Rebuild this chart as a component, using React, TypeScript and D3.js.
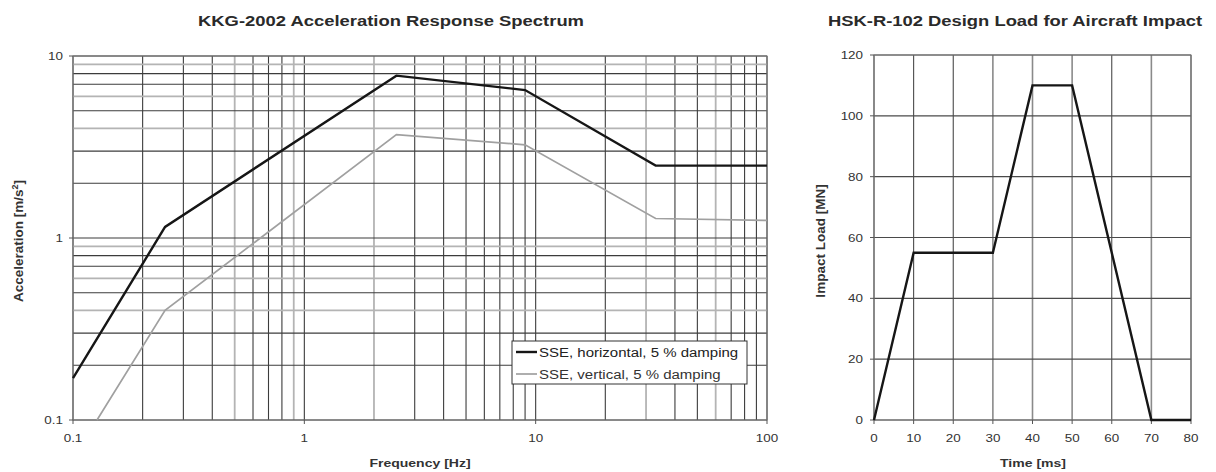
import React from "react";
import * as d3 from "d3";

// Left chart data: KKG-2002 acceleration response spectrum
const freqH = [0.1, 0.25, 2.5, 9.0, 33, 100];
const accH = [0.17, 1.15, 7.8, 6.5, 2.5, 2.5];
const freqV = [0.127, 0.25, 2.5, 9.0, 33, 100];
const accV = [0.1, 0.4, 3.7, 3.25, 1.28, 1.25];
const leftXTicks = [0.1, 1, 10, 100];
const leftYTicks = [0.1, 1, 10];
const legendLabels = ["SSE, horizontal, 5 % damping", "SSE, vertical, 5 % damping"];
// grid lines that appear faded (lighter grey) in the scanned original
const leftLightX = [0.5, 0.9, 2, 30, 60];
const leftLightY = [9, 6, 4, 0.9, 0.6, 0.4];

// Right chart data: HSK-R-102 aircraft impact load
const timeMs = [0, 10, 30, 40, 50, 70, 80];
const loadMN = [0, 55, 55, 110, 110, 0, 0];
const rightXTicks = [0, 10, 20, 30, 40, 50, 60, 70, 80];
const rightYTicks = [0, 20, 40, 60, 80, 100, 120];
const rightLightX = [30, 40, 50, 70];

const FONT = "'Liberation Sans', Arial, sans-serif";
const SX = 1.22;
const DARK_GRID = "#3c3c3c";
const LIGHT_GRID = "#b4b4b4";

function SText(props: {
  x: number;
  y: number;
  size: number;
  anchor?: string;
  bold?: boolean;
  fill?: string;
  sx?: number;
  children: React.ReactNode;
}) {
  const { x, y, size, anchor = "start", bold = false, fill = "#333", sx = SX, children } = props;
  return (
    <text
      transform={`translate(${x},${y}) scale(${sx},1)`}
      textAnchor={anchor}
      fontFamily={FONT}
      fontSize={size}
      fontWeight={bold ? "bold" : "normal"}
      fill={fill}
    >
      {children}
    </text>
  );
}

function logGridValues(min: number, max: number): number[] {
  const out: number[] = [];
  for (let dec = min; dec < max; dec *= 10) {
    for (let k = 1; k <= 9; k++) out.push(Math.round(dec * k * 1e6) / 1e6);
  }
  out.push(max);
  return out;
}

const isIn = (arr: number[], v: number) => arr.some((a) => Math.abs(a - v) < 1e-6);

function LeftChart() {
  const L = 73, R = 767, T = 56, B = 420;
  const x = d3.scaleLog().domain([0.1, 100]).range([L, R]);
  const y = d3.scaleLog().domain([0.1, 10]).range([B, T]);
  const xGrid = logGridValues(0.1, 100);
  const yGrid = logGridValues(0.1, 10);
  const line = d3
    .line<[number, number]>()
    .x((d) => x(d[0]))
    .y((d) => y(d[1]));
  const hData = freqH.map((f, i) => [f, accH[i]] as [number, number]);
  const vData = freqV.map((f, i) => [f, accV[i]] as [number, number]);
  return (
    <g>
      <text
        x={391}
        y={26}
        textAnchor="middle"
        fontFamily={FONT}
        fontSize={14.5}
        fontWeight="bold"
        fill="#2a2a2a"
        textLength={386}
        lengthAdjust="spacingAndGlyphs"
      >
        KKG-2002 Acceleration Response Spectrum
      </text>
      {xGrid.map((v, i) => {
        const light = isIn(leftLightX, v);
        return (
          <line
            key={"xg" + i}
            x1={x(v)}
            x2={x(v)}
            y1={T}
            y2={B}
            stroke={light ? LIGHT_GRID : DARK_GRID}
            strokeWidth={light ? 1.8 : 1.1}
          />
        );
      })}
      {yGrid.map((v, i) => {
        const light = isIn(leftLightY, v);
        return (
          <line
            key={"yg" + i}
            x1={L}
            x2={R}
            y1={y(v)}
            y2={y(v)}
            stroke={light ? LIGHT_GRID : DARK_GRID}
            strokeWidth={light ? 1.8 : 1.1}
          />
        );
      })}
      <rect x={L} y={T} width={R - L} height={B - T} fill="none" stroke="#777" strokeWidth={1} />
      {leftXTicks.map((v, i) => (
        <g key={"xt" + i}>
          <line x1={x(v)} x2={x(v)} y1={B} y2={B + 4} stroke="#555" />
          <SText x={x(v)} y={B + 22} size={11} anchor="middle">
            {v}
          </SText>
        </g>
      ))}
      {leftYTicks.map((v, i) => (
        <g key={"yt" + i}>
          <line x1={L - 4} x2={L} y1={y(v)} y2={y(v)} stroke="#555" />
          <SText x={L - 10} y={y(v) + 4} size={11} anchor="end">
            {v}
          </SText>
        </g>
      ))}
      <path d={line(vData) || ""} fill="none" stroke="#a0a0a0" strokeWidth={1.7} />
      <path d={line(hData) || ""} fill="none" stroke="#161616" strokeWidth={2.4} />
      <SText x={420} y={467} size={11.5} anchor="middle" bold>
        Frequency [Hz]
      </SText>
      <text
        transform={`translate(23,241) rotate(-90)`}
        textAnchor="middle"
        fontFamily={FONT}
        fontSize={13.5}
        fontWeight="bold"
        fill="#333"
      >
        Acceleration [m/s<tspan dy={-5} fontSize={9}>2</tspan>
        <tspan dy={5}>]</tspan>
      </text>
      <g>
        <rect x={512} y={341} width={235} height={43} fill="#fff" stroke="#333" strokeWidth={1} />
        <line x1={516} x2={537} y1={352} y2={352} stroke="#161616" strokeWidth={2.4} />
        <SText x={539} y={356.5} size={12} fill="#222" sx={1.25}>
          {legendLabels[0]}
        </SText>
        <line x1={516} x2={537} y1={374} y2={374} stroke="#a0a0a0" strokeWidth={1.7} />
        <SText x={539} y={378.5} size={12} fill="#333" sx={1.25}>
          {legendLabels[1]}
        </SText>
      </g>
    </g>
  );
}

function RightChart() {
  const L = 874, R = 1191, T = 55, B = 420;
  const x = d3.scaleLinear().domain([0, 80]).range([L, R]);
  const y = d3.scaleLinear().domain([0, 120]).range([B, T]);
  const line = d3
    .line<[number, number]>()
    .x((d) => x(d[0]))
    .y((d) => y(d[1]));
  const data = timeMs.map((t, i) => [t, loadMN[i]] as [number, number]);
  return (
    <g>
      <text
        x={1015}
        y={26}
        textAnchor="middle"
        fontFamily={FONT}
        fontSize={14.5}
        fontWeight="bold"
        fill="#2a2a2a"
        textLength={374}
        lengthAdjust="spacingAndGlyphs"
      >
        HSK-R-102 Design Load for Aircraft Impact
      </text>
      {rightXTicks.map((v, i) => {
        const light = isIn(rightLightX, v);
        return (
          <line
            key={"xg" + i}
            x1={x(v)}
            x2={x(v)}
            y1={T}
            y2={B}
            stroke={light ? "#8a8a8a" : "#4a4a4a"}
            strokeWidth={light ? 1.6 : 1.1}
          />
        );
      })}
      {rightYTicks.map((v, i) => (
        <line key={"yg" + i} x1={L} x2={R} y1={y(v)} y2={y(v)} stroke="#4a4a4a" strokeWidth={1.1} />
      ))}
      <rect x={L} y={T} width={R - L} height={B - T} fill="none" stroke="#777" strokeWidth={1} />
      {rightXTicks.map((v, i) => (
        <g key={"xt" + i}>
          <line x1={x(v)} x2={x(v)} y1={B} y2={B + 4} stroke="#555" />
          <SText x={x(v)} y={B + 22} size={11} anchor="middle">
            {v}
          </SText>
        </g>
      ))}
      {rightYTicks.map((v, i) => (
        <g key={"yt" + i}>
          <line x1={L - 4} x2={L} y1={y(v)} y2={y(v)} stroke="#555" />
          <SText x={L - 11} y={y(v) + 4} size={11} anchor="end">
            {v}
          </SText>
        </g>
      ))}
      <path d={line(data) || ""} fill="none" stroke="#161616" strokeWidth={2.4} />
      <SText x={1033} y={467} size={11.5} anchor="middle" bold>
        Time [ms]
      </SText>
      <text
        transform={`translate(825,241) rotate(-90)`}
        textAnchor="middle"
        fontFamily={FONT}
        fontSize={13.5}
        fontWeight="bold"
        fill="#333"
      >
        Impact Load [MN]
      </text>
    </g>
  );
}

export default function App() {
  return (
    <svg
      width={1216}
      height={472}
      style={{ position: "absolute", left: 0, top: 0, background: "#fff" }}
    >
      <rect x={0} y={0} width={1216} height={472} fill="#fff" />
      <LeftChart />
      <RightChart />
    </svg>
  );
}
